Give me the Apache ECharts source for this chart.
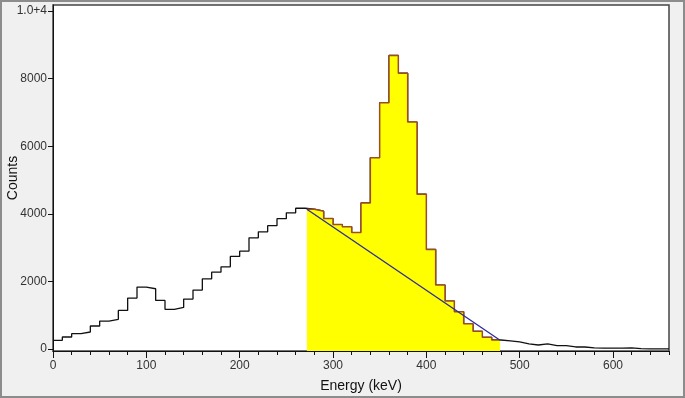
<!DOCTYPE html>
<html>
<head>
<meta charset="utf-8">
<script src="https://cdn.jsdelivr.net/npm/echarts@6/dist/echarts.min.js"></script>
<style>
  html, body { margin: 0; padding: 0; background: #f0f0f0; }
  #spectrum { width: 685px; height: 398px; }
</style>
</head>
<body>
<div id="spectrum"></div>
<script>
// counts per 10 keV channel, 0-660 keV
const binWidth = 10
const counts = [
  257, 355, 453, 502, 680, 827, 876, 1142, 1506, 1831,
  1782, 1438, 1172, 1231, 1477, 1743, 2077, 2274, 2431, 2738,
  2895, 3289, 3466, 3650, 3855, 4028, 4165, 4136, 4077, 3860,
  3683, 3614, 3446, 4323, 5662, 7287, 8685, 8163, 6716, 4579,
  2944, 1891, 1418, 1102, 745, 522, 345, 266, 240, 207,
  148, 118, 148, 97, 97, 59, 59, 30, 25, 25,
  25, 30, 8, 5, 5, 5
]
// region of interest (keV) and its linear background
const roi = [272, 479]
const background = [[272, 4136], [479, 257]]
const xLabels = [0, 100, 200, 300, 400, 500, 600]
const xMinor = [0, 20, 40, 60, 80, 100, 120, 140, 160, 180, 200, 220, 240, 260, 280, 300, 320, 340,
  360, 380, 400, 420, 440, 460, 480, 500, 520, 540, 560, 580, 600, 620, 640, 660]
const yTicks = [0, 2000, 4000, 6000, 8000, 10000]

const histData = counts.map((v, i) => [i * binWidth, v])
histData.push([counts.length * binWidth, counts[counts.length - 1]])

const roiData = []
roiData.push([roi[0], counts[Math.floor(roi[0] / binWidth)]])
for (let i = Math.ceil(roi[0] / binWidth); i * binWidth < roi[1]; i++) {
  roiData.push([i * binWidth, counts[i]])
}
roiData.push([roi[1], counts[Math.floor(roi[1] / binWidth)]])

const chart = echarts.init(document.getElementById('spectrum'))
const font = 'Liberation Sans, Arial, sans-serif'
const option = {
  animation: false,
  backgroundColor: '#f0f0f0',
  graphic: [{
    type: 'rect',
    shape: { x: 1, y: 1, width: 683, height: 396 },
    style: { fill: 'none', stroke: '#8c8c8c', lineWidth: 2 },
    z: 100
  }],
  grid: {
    left: 53,
    right: 16,
    top: 5,
    bottom: 47,
    containLabel: false,
    outerBoundsMode: 'none',
    show: true,
    backgroundColor: '#fff',
    borderColor: '#444',
    borderWidth: 1.5
  },
  xAxis: [
    {
      type: 'value',
      min: 0,
      max: 660,
      name: 'Energy (keV)',
      nameLocation: 'middle',
      nameGap: 28,
      nameMoveOverlap: false,
      nameTextStyle: { fontFamily: font, fontSize: 14, color: '#111' },
      axisLine: { onZero: false, lineStyle: { color: '#111', width: 1 } },
      axisTick: { show: true, length: 7, customValues: xLabels, lineStyle: { color: '#111' } },
      axisLabel: { customValues: xLabels, fontFamily: font, fontSize: 12, color: '#333', margin: 9 },
      splitLine: { show: false }
    },
    {
      type: 'value',
      position: 'bottom',
      min: 0,
      max: 660,
      axisLine: { show: false, onZero: false },
      axisTick: { show: true, length: 4, customValues: xMinor, lineStyle: { color: '#111' } },
      axisLabel: { show: false },
      splitLine: { show: false }
    }
  ],
  yAxis: {
    type: 'value',
    min: -60,
    max: 10180,
    name: 'Counts',
    nameLocation: 'middle',
    nameGap: 33,
    nameMoveOverlap: false,
    nameTextStyle: { fontFamily: font, fontSize: 14, color: '#111' },
    axisLine: { show: true, onZero: false, lineStyle: { color: '#111', width: 1 } },
    axisTick: { show: true, length: 5, customValues: yTicks, lineStyle: { color: '#111' } },
    axisLabel: {
      customValues: yTicks,
      fontFamily: font,
      fontSize: 12,
      color: '#333',
      margin: 6,
      formatter: v => (v === 10000 ? '1.0+4' : String(v))
    },
    splitLine: { show: false }
  },
  series: [
    {
      name: 'spectrum',
      type: 'line',
      step: 'end',
      symbol: 'none',
      silent: true,
      data: histData,
      lineStyle: { color: '#111', width: 1.3 },
      z: 2
    },
    {
      name: 'roi',
      type: 'line',
      step: 'end',
      symbol: 'none',
      silent: true,
      data: roiData,
      lineStyle: { color: '#9a4e24', width: 1.5 },
      areaStyle: { color: '#ffff00', opacity: 1, origin: 'start' },
      z: 3
    },
    {
      name: 'background',
      type: 'line',
      symbol: 'none',
      silent: true,
      data: background,
      lineStyle: { color: '#2b2b9a', width: 1.3 },
      z: 4
    }
  ]
}
chart.setOption(option)
</script>
</body>
</html>
